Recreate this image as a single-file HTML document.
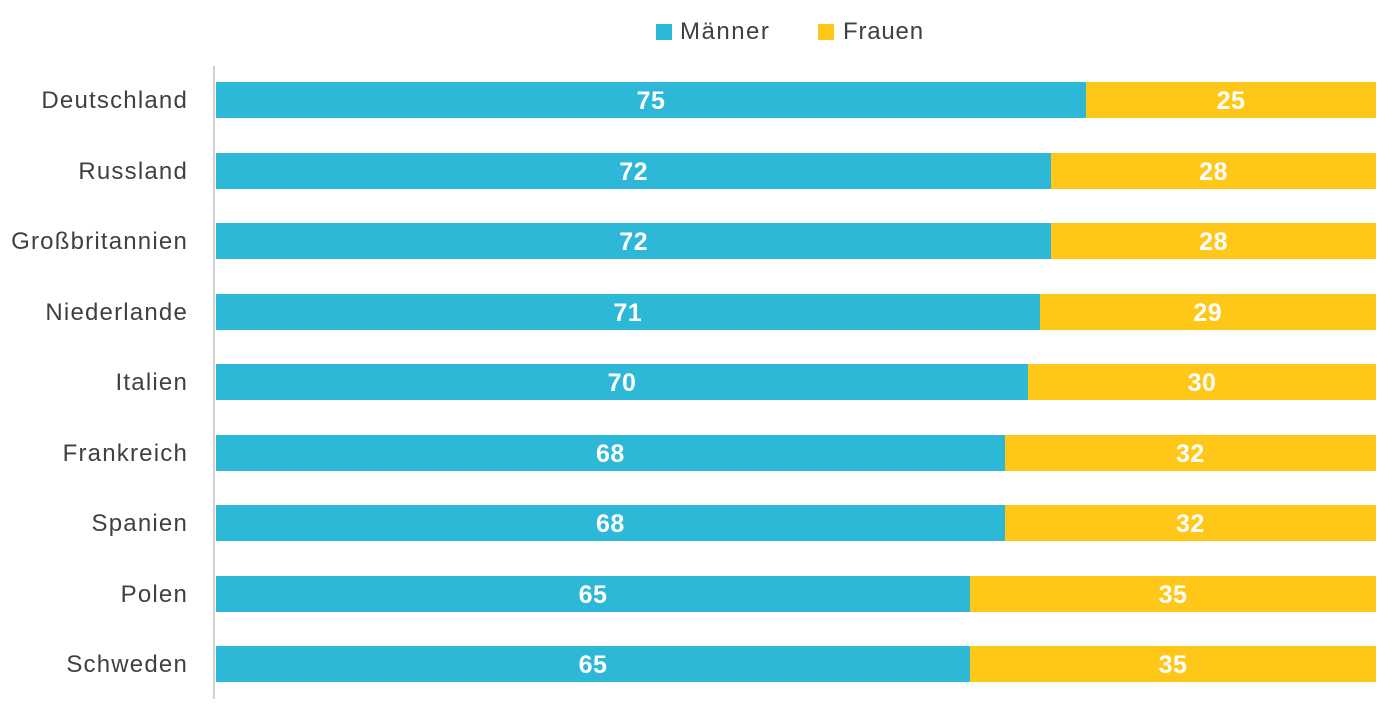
<!DOCTYPE html>
<html><head><meta charset="utf-8"><style>
body{margin:0;width:1400px;height:717px;background:#fff;font-family:"Liberation Sans",sans-serif;position:relative;overflow:hidden}
.lbl{position:absolute;right:1212px;font-size:24px;letter-spacing:1.2px;color:#404040;height:36px;line-height:36px;white-space:nowrap}
.bar{position:absolute;height:36px;line-height:39px;text-align:center;color:#fff;font-weight:bold;font-size:25px;letter-spacing:0.5px}
.m{background:#2EB8D8}.f{background:#FFC819}
</style></head><body>
<div style="position:absolute;left:656px;top:24px;width:16px;height:16px;background:#2EB8D8"></div>
<div style="position:absolute;left:680px;top:18px;font-size:24px;letter-spacing:1.5px;color:#404040">Männer</div>
<div style="position:absolute;left:818px;top:24px;width:16px;height:16px;background:#FFC819"></div>
<div style="position:absolute;left:843px;top:18px;font-size:24px;letter-spacing:0.8px;color:#404040">Frauen</div>
<div style="position:absolute;left:213px;top:66px;width:2px;height:633px;background:#d0d0d0"></div>
<div id="c"></div>
<script>
var d=[["Deutschland",75],["Russland",72],["Großbritannien",72],["Niederlande",71],["Italien",70],["Frankreich",68],["Spanien",68],["Polen",65],["Schweden",65]];
var h="";d.forEach(function(r,i){var y=82+i*70.5,w=r[1]*11.6;
h+='<div class="lbl" style="top:'+(y+1)+'px">'+r[0]+'</div>';
h+='<div class="bar m" style="top:'+y+'px;left:216px;width:'+w+'px">'+r[1]+'</div>';
h+='<div class="bar f" style="top:'+y+'px;left:'+(216+w)+'px;width:'+(1160-w)+'px">'+(100-r[1])+'</div>';});
document.getElementById("c").innerHTML=h;
</script>
</body></html>
